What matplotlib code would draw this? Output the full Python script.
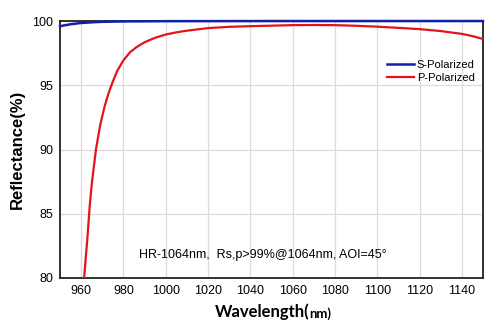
import matplotlib
matplotlib.use("Agg")
import matplotlib.pyplot as plt

# P-polarized reflectance
p_wl = [961.4, 962, 963, 964, 965, 967, 969, 971, 973, 975, 977, 980, 983, 986,
        990, 995, 1000, 1005, 1010, 1020, 1030, 1040, 1050, 1060, 1070, 1080,
        1090, 1100, 1110, 1120, 1130, 1140, 1145, 1150]
p_val = [80.0, 81.2, 83.2, 85.5, 87.3, 90.0, 91.9, 93.3, 94.4, 95.3, 96.1, 96.95, 97.55, 97.95,
         98.35, 98.7, 98.95, 99.12, 99.25, 99.45, 99.55, 99.6, 99.64, 99.68, 99.69, 99.68,
         99.63, 99.56, 99.47, 99.37, 99.22, 99.0, 98.83, 98.6]

# S-polarized reflectance
s_wl = [950, 955, 960, 965, 970, 980, 1000, 1050, 1100, 1150]
s_val = [99.6, 99.75, 99.85, 99.9, 99.94, 99.97, 99.99, 100.0, 100.0, 100.0]

xticks = [960, 980, 1000, 1020, 1040, 1060, 1080, 1100, 1120, 1140]
yticks = [80, 85, 90, 95, 100]

plt.rcParams['font.family'] = ['Liberation Sans', 'DejaVu Sans']

fig = plt.figure(figsize=(5.0, 3.34), dpi=100)
ax = fig.add_axes([0.12, 0.1677, 0.846, 0.7693])

ax.set_xlim(950, 1150)
ax.set_ylim(80, 100)
ax.set_xticks(xticks)
ax.set_yticks(yticks)
ax.grid(True, color='#dcdcdc', linewidth=0.9)
ax.set_axisbelow(True)
ax.tick_params(length=0, labelsize=9, pad=5)
for s in ax.spines.values():
    s.set_color('#222222')
    s.set_linewidth(1.3)

ax.plot(s_wl, s_val, color='#1020a8', linewidth=1.8, label='S-Polarized', clip_on=False, zorder=4)
ax.plot(p_wl, p_val, color='#e3141c', linewidth=1.6, label='P-Polarized', zorder=3)

leg = ax.legend(loc='upper right', bbox_to_anchor=(0.98, 0.85), frameon=False,
                fontsize=8, handlelength=2.4, handletextpad=0.25, labelspacing=0.3,
                borderaxespad=0.0, borderpad=0.0)

ax.text(0.48, 0.088, 'HR-1064nm,  Rs,p>99%@1064nm, AOI=45°', transform=ax.transAxes,
        fontsize=9, ha='center', va='center')

ax.set_ylabel('Reflectance(%)', fontsize=12, fontweight='bold', labelpad=5)

t = fig.text(0.43, 0.05, 'Wavelength(', fontsize=12, fontweight='bold',
             family=['Lato', 'DejaVu Sans'], ha='left', va='baseline')
ax.annotate('nm)', xy=(1, 0), xycoords=t, fontsize=9.5, fontweight='bold',
            family=['Lato', 'DejaVu Sans'], ha='left', va='bottom')

fig.savefig('out.png', dpi=100)
